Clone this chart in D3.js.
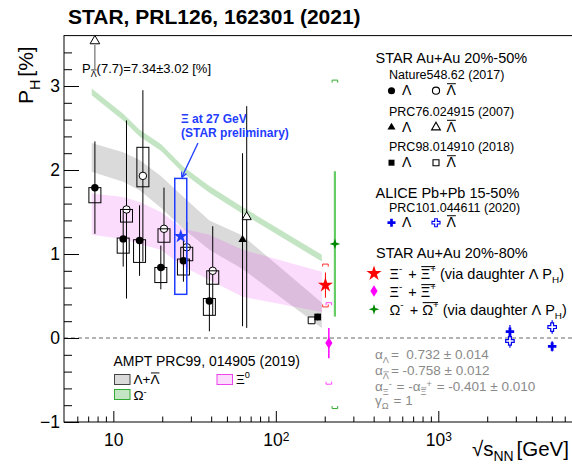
<!DOCTYPE html>
<html><head><meta charset="utf-8">
<script src="https://cdn.jsdelivr.net/npm/d3@7"></script>
<style>
body{margin:0;background:#fff}
svg{display:block}
text{font-family:"Liberation Sans",Arial,sans-serif}
</style></head>
<body><svg id="c" width="572" height="468"></svg>
<script>
// ---------------- data ----------------
// STAR Au+Au 20-50% Nature548.62 (2017)
const lamE = [7.7, 11.5, 14.5, 19.6, 27, 39];
const lamP = [1.79, 1.18, 1.16, 0.84, 0.92, 0.44];
const lamStat = [0.55, 0.33, 0.42, 0.26, 0.25, 0.36];
const lamSysLo = [1.61, 1.01, 0.90, 0.66, 0.75, 0.27];
const lamSysHi = [1.79, 1.19, 1.17, 0.84, 0.94, 0.47];
const alamE = [12.05, 15.2, 20.5, 28.3, 40.9];
const alamP = [1.53, 1.93, 1.30, 1.08, 0.80];
const alamStat = [1.06, 1.02, 0.49, 0.30, 0.53];
const alamSysLo = [1.38, 1.80, 1.14, 0.92, 0.64];
const alamSysHi = [1.53, 2.27, 1.30, 1.08, 0.80];
const alam77E = 7.7, alam77P = 7.34, alam77Err = 3.02; // off scale
// PRC76.024915 (2007)
const lam62E = [62.4], lam62P = [1.17], lam62Stat = [1.03];
const alam62E = [66.2], alam62P = [1.44], alam62Stat = [1.32];
// PRC98.014910 (2018)
const lam200E = [181], lam200P = [0.25], lam200Stat = [0.04];
const alam200E = [166], alam200P = [0.21], alam200Stat = [0.04];
// ALICE Pb+Pb 15-50%
const aliceE = [2760, 5020];
const aliceLamP = [0.075, -0.10], aliceLamErr = [0.08, 0.06];
const aliceALamP = [-0.035, 0.13], aliceALamErr = [0.08, 0.08];
// STAR Au+Au 20-80% 200 GeV
const xiDE = [202], xiDP = [0.63], xiDStat = [0.15], xiDSysLo = [0.37], xiDSysHi = [0.88];
const xiE = [212], xiP = [-0.06], xiStat = [0.18], xiSysLo = [-0.55], xiSysHi = [0.42];
const omE = [231], omP = [1.12], omStat = [0.865], omSysLo = [-0.84], omSysHi = [3.07];
// Xi at 27 GeV (STAR preliminary)
const xi27E = [26], xi27P = [1.21], xi27SysLo = [0.52], xi27SysHi = [1.90];
// AMPT PRC99, 014905 (2019)
const ampE = [7.36, 11.5, 14.5, 19.6, 27, 39, 62.4, 192];
const ampLamLo = [1.98, 1.86, 1.76, 1.55, 1.30, 1.05, 0.82, 0.12];
const ampLamHi = [2.32, 2.21, 2.12, 1.93, 1.68, 1.40, 1.22, 0.42];
const ampXiLo = [1.23, 1.18, 1.12, 1.05, 0.85, 0.69, 0.49, 0.31];
const ampXiHi = [1.72, 1.68, 1.62, 1.50, 1.30, 1.23, 1.05, 0.79];
const ampOmC = [2.93, 2.63, 2.44, 2.27, 2.00, 1.77, 1.52, 0.95];
const ampOmHalf = 0.04;
// axes
const yMajor = [-1, 0, 1, 2, 3];
const xMajor = [10, 100, 1000];
const xMinor = [6,7,8,9,20,30,40,50,60,70,80,90,200,300,400,500,600,700,800,900,2000,3000,4000,5000,6000];

// ---------------- setup ----------------
const svg = d3.select('#c');
const SERIF = '"Liberation Serif","DejaVu Serif",serif';
const SANS = '"Liberation Sans",Arial,sans-serif';
const x = d3.scaleLog().domain([4.97, 6650]).range([64, 572]);
const y = d3.scaleLinear().domain([-1, 3.6]).range([422, 35.6]);
const X0 = 64, X1 = 572, Y0 = 422, Y1 = 35.6;

function rich(g, x0, y0, segs, size, color) {
  let cx = x0;
  segs.forEach(s => {
    const small = s.sub || s.sup;
    const fs = small ? size * 0.68 : size;
    const dy = s.sub ? size * (s.subOff || 0.32) : (s.sup ? -size * (s.supOff || 0.42) : 0);
    const t = g.append('text').attr('x', cx).attr('y', y0 + dy)
      .attr('font-size', fs).attr('fill', color)
      .attr('font-family', s.serif ? SERIF : SANS)
      .attr('font-weight', s.bold ? 'bold' : null)
      .style('white-space', 'pre').text(s.t);
    const w = t.node().getComputedTextLength();
    if (s.bar) {
      const by = y0 + dy - fs * 0.82;
      g.append('line').attr('x1', cx + 0.5).attr('x2', cx + w + (s.barExt || 0)).attr('y1', by).attr('y2', by)
        .attr('stroke', color).attr('stroke-width', Math.max(0.8, fs / 14));
    }
    cx += w + (s.dx || 0);
  });
  return cx - x0;
}

// ---------------- AMPT bands ----------------
const bandData = (lo, hi) => ampE.map((e, i) => ({e, lo: lo[i], hi: hi[i]}));
const area = d3.area().x(d => x(d.e)).y0(d => y(d.lo)).y1(d => y(d.hi));
svg.append('path').datum(bandData(ampLamLo, ampLamHi)).attr('d', area)
  .attr('fill', 'rgb(120,120,120)').attr('fill-opacity', 0.27);
svg.append('path').datum(bandData(ampOmC.map(v => v - ampOmHalf), ampOmC.map(v => v + ampOmHalf))).attr('d', area)
  .attr('fill', 'rgb(60,170,60)').attr('fill-opacity', 0.3);
svg.append('path').datum(bandData(ampXiLo, ampXiHi)).attr('d', area)
  .attr('fill', 'rgb(240,60,240)').attr('fill-opacity', 0.18);

// zero line
svg.append('line').attr('x1', X0).attr('x2', X1).attr('y1', y(0)).attr('y2', y(0))
  .attr('stroke', '#666').attr('stroke-dasharray', '4,3').attr('stroke-width', 1);

// ---------------- axes ----------------
const gy = svg.append('g').attr('transform', `translate(${X0},0)`)
  .call(d3.axisLeft(y).tickValues(yMajor).tickSize(-15).tickSizeOuter(0).tickPadding(4).tickFormat(d3.format('d')));
gy.select('.domain').remove();
gy.selectAll('text').attr('font-size', 17.5).attr('font-family', SANS).attr('fill', '#000');
const yMinor = d3.range(-10, 36, 2).map(v => v / 10).filter(v => Math.abs(v - Math.round(v)) > 1e-6);
const gym = svg.append('g').attr('transform', `translate(${X0},0)`)
  .call(d3.axisLeft(y).tickValues(yMinor).tickSize(-8).tickSizeOuter(0).tickFormat(''));
gym.select('.domain').remove();

const gx = svg.append('g').attr('transform', `translate(0,${Y0})`)
  .call(d3.axisBottom(x).tickValues(xMajor).tickSize(-11).tickSizeOuter(0).tickPadding(12).tickFormat(d => String(d)));
gx.select('.domain').remove();
gx.selectAll('text').each(function(d) {
  const t = d3.select(this).text('').attr('font-size', 17.5).attr('font-family', SANS).attr('fill', '#000');
  t.append('tspan').text('10');
  const p = Math.round(Math.log10(d));
  if (p > 1) t.append('tspan').attr('dy', '-0.45em').attr('font-size', 12).text(p);
});
const gxm = svg.append('g').attr('transform', `translate(0,${Y0})`)
  .call(d3.axisBottom(x).tickValues(xMinor).tickSize(-5.5).tickSizeOuter(0).tickFormat(''));
gxm.select('.domain').remove();
svg.selectAll('.tick line').attr('stroke', '#000');

// frame
svg.append('rect').attr('x', X0).attr('y', Y1).attr('width', X1 - X0 + 5).attr('height', Y0 - Y1)
  .attr('fill', 'none').attr('stroke', '#000').attr('stroke-width', 1);

// ---------------- symbols ----------------
const diamondSym = {draw(ctx, size) { const r = Math.sqrt(size) * 0.75; ctx.moveTo(0, -r); ctx.lineTo(r * 0.62, 0); ctx.lineTo(0, r); ctx.lineTo(-r * 0.62, 0); ctx.closePath(); }};
const star4 = {draw(ctx, size) { const r = Math.sqrt(size) * 0.7, w = r * 0.24; ctx.moveTo(0, -r); ctx.lineTo(w, -w); ctx.lineTo(r, 0); ctx.lineTo(w, w); ctx.lineTo(0, r); ctx.lineTo(-w, w); ctx.lineTo(-r, 0); ctx.lineTo(-w, -w); ctx.closePath(); }};
const sym = (type, size) => d3.symbol().type(type).size(size)();

function drawSet(cfg) {
  const g = svg.append('g');
  const n = cfg.E.length;
  for (let i = 0; i < n; i++) {
    const cx = x(cfg.E[i]);
    if (cfg.stat) g.append('line').attr('x1', cx).attr('x2', cx)
      .attr('y1', y(cfg.P[i] + cfg.stat[i])).attr('y2', y(cfg.P[i] - cfg.stat[i]))
      .attr('stroke', cfg.lineColor || '#000').attr('stroke-width', cfg.lineWidth || 1);
  }
  for (let i = 0; i < n; i++) {
    const cx = x(cfg.E[i]);
    g.append('path').attr('d', sym(cfg.type, cfg.size)).attr('transform', `translate(${cx},${y(cfg.P[i])})`)
      .attr('fill', cfg.fill).attr('stroke', cfg.stroke || 'none').attr('stroke-width', cfg.sw || 1);
  }
  if (cfg.sysLo) for (let i = 0; i < n; i++) {
    const cx = x(cfg.E[i]);
    if (cfg.bracket) {
      const hw = 2.8, tk = 2.5;
      [[cfg.sysHi[i], 1], [cfg.sysLo[i], -1]].forEach(([v, d]) => {
        const yy = y(v);
        g.append('path').attr('d', `M${cx - hw},${yy + d * tk}V${yy}H${cx + hw}V${yy + d * tk}`)
          .attr('fill', 'none').attr('stroke', cfg.bracket).attr('stroke-width', 1);
      });
    } else {
      g.append('rect').attr('x', cx - (cfg.boxHW || 6)).attr('width', 2 * (cfg.boxHW || 6))
        .attr('y', y(cfg.sysHi[i])).attr('height', y(cfg.sysLo[i]) - y(cfg.sysHi[i]))
        .attr('fill', 'none').attr('stroke', cfg.boxColor || '#000').attr('stroke-width', cfg.boxWidth || 1);
    }
  }
}

drawSet({E: lamE, P: lamP, stat: lamStat, sysLo: lamSysLo, sysHi: lamSysHi, type: d3.symbolCircle, size: 44, fill: '#000'});
drawSet({E: alamE, P: alamP, stat: alamStat, sysLo: alamSysLo, sysHi: alamSysHi, type: d3.symbolCircle, size: 44, fill: '#fff', stroke: '#000'});
drawSet({E: lam62E, P: lam62P, stat: lam62Stat, type: d3.symbolTriangle, size: 30, fill: '#000'});
drawSet({E: alam62E, P: alam62P, stat: alam62Stat, type: d3.symbolTriangle, size: 36, fill: '#fff', stroke: '#000'});
drawSet({E: alam200E, P: alam200P, stat: alam200Stat, type: d3.symbolSquare, size: 46, fill: '#fff', stroke: '#000'});
drawSet({E: lam200E, P: lam200P, stat: lam200Stat, type: d3.symbolSquare, size: 46, fill: '#000'});
drawSet({E: xiDE, P: xiDP, stat: xiDStat, sysLo: xiDSysLo, sysHi: xiDSysHi, bracket: '#ff3030', type: d3.symbolStar, size: 70, fill: '#ff0000', lineColor: '#ff0000'});
drawSet({E: xiE, P: xiP, stat: xiStat, sysLo: xiSysLo, sysHi: xiSysHi, bracket: '#ff44ff', type: diamondSym, size: 60, fill: '#ff00ff', lineColor: '#ff00ff', lineWidth: 1.5});
drawSet({E: omE, P: omP, stat: omStat, sysLo: omSysLo, sysHi: omSysHi, bracket: '#33aa33', type: star4, size: 60, fill: '#008800', lineColor: '#66cc66', lineWidth: 2.2});
// ALICE
drawSet({E: aliceE, P: aliceLamP, stat: aliceLamErr, type: d3.symbolCross, size: 40, fill: '#0000ee', lineColor: '#0000ee', lineWidth: 1.2});
drawSet({E: aliceE, P: aliceALamP, stat: aliceALamErr, type: d3.symbolCross, size: 40, fill: '#fff', stroke: '#0000ee', sw: 1.2, lineColor: '#0000ee', lineWidth: 1.2});
// Xi at 27 GeV
drawSet({E: xi27E, P: xi27P, sysLo: xi27SysLo, sysHi: xi27SysHi, type: d3.symbolStar, size: 60, fill: '#1f3dff', boxColor: '#1f3dff', boxWidth: 1.5});

// off-scale anti-Lambda at 7.7 GeV
{
  const cx = x(alam77E);
  svg.append('line').attr('x1', cx).attr('x2', cx).attr('y1', 45).attr('y2', 69).attr('stroke', '#555').attr('stroke-width', 1);
  svg.append('path').attr('d', sym(d3.symbolTriangle, 40)).attr('transform', `translate(${cx},41)`)
    .attr('fill', '#fff').attr('stroke', '#000');
  rich(svg, 82, 73, [{t: 'P'}, {t: 'Λ', sub: true, serif: true, bar: true}, {t: `(${alam77E})=${alam77P}±${alam77Err} [%]`}], 13, '#000');
}

// Xi annotation
{
  const c = '#1f3dff';
  rich(svg, 181, 123, [{t: 'Ξ', bold: true}, {t: ' at 27 GeV', bold: true}], 12, c);
  rich(svg, 181, 137, [{t: '(STAR preliminary)', bold: true}], 12, c);
  const ex = x(xi27E[0]) + 1, ey = y(xi27SysHi[0]) - 1;
  svg.append('line').attr('x1', 198).attr('y1', 143).attr('x2', ex).attr('y2', ey).attr('stroke', c).attr('stroke-width', 1.3);
  const ang = Math.atan2(ey - 143, ex - 198);
  const L = 6, A = 0.45;
  svg.append('path').attr('d', `M${ex},${ey}L${ex - L * Math.cos(ang - A)},${ey - L * Math.sin(ang - A)}M${ex},${ey}L${ex - L * Math.cos(ang + A)},${ey - L * Math.sin(ang + A)}`)
    .attr('stroke', c).attr('stroke-width', 1.3).attr('fill', 'none');
}

// ---------------- titles ----------------
svg.append('text').attr('x', 68).attr('y', 24).attr('font-size', 21).attr('font-weight', 'bold').attr('font-family', SANS).text('STAR, PRL126, 162301 (2021)');
{
  const g = svg.append('g').attr('transform', 'translate(33,104) rotate(-90)');
  rich(g, 0, 0, [{t: 'P'}, {t: 'H', sub: true, dx: 3}, {t: '[%]'}], 21, '#000');
}
{
  const g = svg.append('g');
  const w = rich(g, 0, 0, [{t: '√', serif: true}, {t: 's'}, {t: 'NN', sub: true, subOff: 0.25, dx: 3}, {t: '[GeV]'}], 20.5, '#000');
  g.attr('transform', `translate(${569 - w},456)`);
}

// ---------------- legends ----------------
const lg = svg.append('g');
const bar = true;
lg.append('text').attr('x', 375.5).attr('y', 63).attr('font-size', 14.5).text('STAR Au+Au 20%-50%');
lg.append('text').attr('x', 389).attr('y', 79).attr('font-size', 12.5).text('Nature548.62 (2017)');
lg.append('text').attr('x', 389).attr('y', 115.5).attr('font-size', 12.5).text('PRC76.024915 (2007)');
lg.append('text').attr('x', 389).attr('y', 150.5).attr('font-size', 12.5).text('PRC98.014910 (2018)');
lg.append('text').attr('x', 375.5).attr('y', 198).attr('font-size', 14.5).text('ALICE Pb+Pb 15-50%');
lg.append('text').attr('x', 389).attr('y', 211.5).attr('font-size', 12.5).text('PRC101.044611 (2020)');
const rows = [
  {yy: 90.7, a: [d3.symbolCircle, 40, '#000', 'none'], b: [d3.symbolCircle, 40, '#fff', '#000']},
  {yy: 127.3, a: [d3.symbolTriangle, 28, '#000', 'none'], b: [d3.symbolTriangle, 34, '#fff', '#000']},
  {yy: 162.7, a: [d3.symbolSquare, 36, '#000', 'none'], b: [d3.symbolSquare, 36, '#fff', '#000']},
  {yy: 222.7, a: [d3.symbolCross, 36, '#0000ee', 'none'], b: [d3.symbolCross, 36, '#fff', '#0000ee']}
];
rows.forEach(r => {
  [[391.5, r.a], [436, r.b]].forEach(([xx, s]) => {
    lg.append('path').attr('d', sym(s[0], s[1])).attr('transform', `translate(${xx},${r.yy})`)
      .attr('fill', s[2]).attr('stroke', s[3]).attr('stroke-width', 1.1);
  });
  rich(lg, 402, r.yy + 4.5, [{t: 'Λ', serif: true}], 14, '#000');
  rich(lg, 446.5, r.yy + 4.5, [{t: 'Λ', serif: true, bar}], 14, '#000');
});
lg.append('text').attr('x', 376).attr('y', 258).attr('font-size', 14.5).text('STAR Au+Au 20%-80%');
lg.append('path').attr('d', sym(d3.symbolStar, 70)).attr('transform', 'translate(374,273.5)').attr('fill', '#ff0000');
lg.append('path').attr('d', d3.symbol().type(diamondSym).size(60)()).attr('transform', 'translate(374,291)').attr('fill', '#ff00ff');
lg.append('path').attr('d', d3.symbol().type(star4).size(60)()).attr('transform', 'translate(374,309.3)').attr('fill', '#008800');
const xiSegs = [{t: 'Ξ', serif: true}, {t: '-', sup: true, dx: 2}, {t: ' + '}, {t: 'Ξ', serif: true, bar, barExt: 5}, {t: '+', sup: true}];
rich(lg, 389.5, 278.5, xiSegs.concat([{t: ' (via daughter '}, {t: 'Λ', serif: true}, {t: ' P'}, {t: 'H', sub: true}, {t: ')'}]), 14.5, '#000');
rich(lg, 389.5, 296.5, xiSegs, 14.5, '#000');
rich(lg, 389.5, 314.5, [{t: 'Ω', serif: true}, {t: '-', sup: true, dx: 2}, {t: ' + '}, {t: 'Ω', serif: true, bar, barExt: 5}, {t: '+', sup: true}, {t: ' (via daughter '}, {t: 'Λ', serif: true}, {t: ' P'}, {t: 'H', sub: true}, {t: ')'}], 14.5, '#000');

// AMPT legend
lg.append('text').attr('x', 113.5).attr('y', 366).attr('font-size', 14).text('AMPT PRC99, 014905 (2019)');
const boxes = [
  {bx: 114.5, by: 374.5, fill: 'rgb(120,120,120)', op: 0.27, st: '#444', lab: [{t: 'Λ+', serif: true}, {t: 'Λ', serif: true, bar}]},
  {bx: 114.5, by: 389.5, fill: 'rgb(60,170,60)', op: 0.3, st: '#33aa33', lab: [{t: 'Ω', serif: true}, {t: '-', sup: true, supOff: 0.36}]},
  {bx: 217, by: 374.5, fill: 'rgb(240,60,240)', op: 0.18, st: '#ee44ee', lab: [{t: 'Ξ', serif: true}, {t: '0', sup: true}]}
];
boxes.forEach((b, i) => {
  lg.append('rect').attr('x', b.bx).attr('y', b.by).attr('width', 15.5).attr('height', 10)
    .attr('fill', b.fill).attr('fill-opacity', b.op).attr('stroke', b.st).attr('stroke-width', 1);
  rich(lg, b.bx + 19, b.by + (i === 1 ? 10.5 : 9.5), b.lab, 13.5, '#000');
});

// decay parameters
{
  const c = '#8a8a8a', fs = 13.5;
  rich(lg, 375, 359, [{t: 'α', serif: true}, {t: 'Λ', sub: true, serif: true, dx: 2}, {t: '=  0.732 ± 0.014'}], fs, c);
  rich(lg, 375, 375, [{t: 'α', serif: true}, {t: 'Λ', sub: true, serif: true, bar, dx: 2}, {t: '= -0.758 ± 0.012'}], fs, c);
  rich(lg, 375, 391, [{t: 'α', serif: true}, {t: 'Ξ', sub: true, serif: true}, {t: '-', sup: true, supOff: 0.3, dx: 1}, {t: ' = -'}, {t: 'α', serif: true}, {t: 'Ξ', sub: true, serif: true, bar}, {t: '+', sup: true, supOff: 0.3, dx: 1}, {t: ' = -0.401 ± 0.010'}], fs, c);
  rich(lg, 375, 405, [{t: 'γ', serif: true}, {t: 'Ω', sub: true, serif: true, dx: 5}, {t: '= 1'}], fs, c);
}
</script></body></html>
